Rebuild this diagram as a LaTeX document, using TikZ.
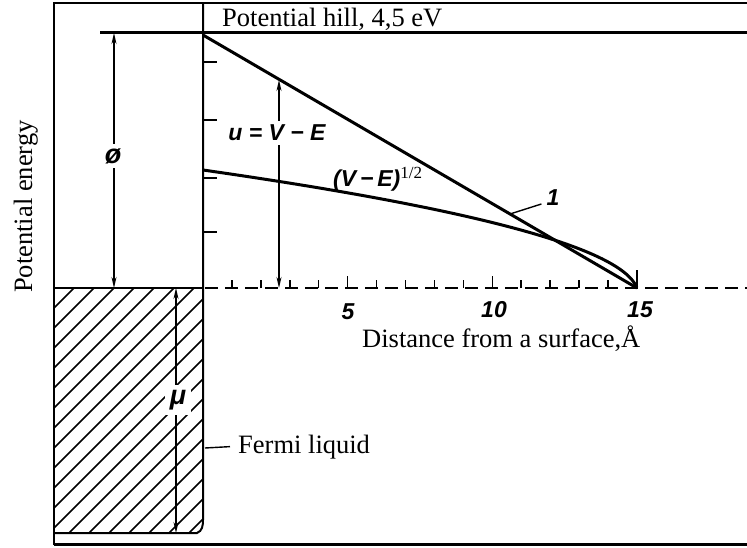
\documentclass[tikz,border=0pt]{standalone}
\usepackage{fontspec}
\setmainfont{Liberation Serif}
\newfontfamily\lblfont{Liberation Sans}
\usetikzlibrary{arrows.meta}
\begin{document}
\begin{tikzpicture}[x=1pt,y=-1pt,
  frameline/.style={line width=2pt},
  heavy/.style={line width=3pt},
  dim/.style={line width=1.5pt,{Stealth[length=11pt,width=5pt]}-{Stealth[length=11pt,width=5pt]}},
  txt/.style={font=\fontsize{26.5}{30}\selectfont, inner sep=0pt},
  lbl/.style={font=\lblfont\bfseries\itshape\fontsize{23}{25}\selectfont, inner sep=2pt},
  biglbl/.style={font=\lblfont\bfseries\itshape\fontsize{27}{29}\selectfont},
  hatch/.style={line width=1.6pt},
  tickmark/.style={line width=1.5pt},
]
\useasboundingbox (0,0) rectangle (747,548);

% hatching of the Fermi liquid
\begin{scope}
  \clip (54,288) -- (203,288) -- (203,520) to[out=-90,in=20] (197,533) -- (54,533) -- cycle;
  \foreach \c in {342,362,...,760} {
    \draw[hatch] (\c-288+20,268) -- (\c-533-20,553);
  }
\end{scope}

% frame
\draw[frameline] (54,545) -- (54,3) -- (747,3);
\draw[heavy] (54,544) -- (747,544);
\draw[frameline] (203,3) -- (203,520) to[out=-90,in=20] (197,533) -- (54,533);
\draw[frameline] (54,288) -- (203,288);

% potential hill line
\draw[heavy] (100,33) -- (747,33);
\node[txt, anchor=base west] (hill) at (222,27) {Potential hill, 4,5 eV};

% ticks on the vertical axis
\foreach \yy in {62,120,178,232} \draw[tickmark] (203,\yy) -- (217,\yy);

% dashed base line with ticks
\draw[line width=1.8pt, dash pattern=on 13pt off 7pt] (205,288) -- (747,288);
\foreach \k in {1,2,3,4,6,7,8,9,11,12,13,14} \draw[tickmark] ({203+28.93*\k},288) -- ({203+28.93*\k},280);
\foreach \k in {5,10} \draw[tickmark] ({203+28.93*\k},288) -- ({203+28.93*\k},276);
\draw[tickmark] (637,288) -- (637,270);
\node[lbl] (n5) at (348,312) {5};
\node[lbl] (n10) at (494,310) {10};
\node[lbl] (n15) at (640,310) {15};
\node[txt, anchor=base west] (dist) at (362,347) {Distance from a surface,Å};

% potential curves
\coordinate (lintop) at (203,35);
\coordinate (zero) at (637,288);
\draw[heavy] (lintop) -- (zero);
\draw[heavy, line join=round] plot[domain=0:15, samples=200]
  ({203+28.93*\x}, {288-118*(sqrt(max(0,1-\x/15)+0.003)-0.05477)/0.94673});

% phi dimension
\coordinate (phitop) at (114,33);
\coordinate (phibot) at (114,288);
\draw[dim] (phitop) -- (phibot);
\node[biglbl, fill=white, inner sep=4pt] (phi) at (113,156) {ø};

% u = V - E dimension
\coordinate (utop) at (279,80);
\coordinate (ubot) at (279,288);
\draw[dim] (utop) -- (ubot);
\node[lbl, fill=white, inner sep=4pt] (ulabel) at (277,133) {u = V − E};

% (V-E)^{1/2} label
\node[lbl, anchor=west, inner sep=0pt] (sqrtlbl) at (333,179) {(V\,−\,E)\raisebox{8pt}{\normalfont\fontsize{17}{18}\selectfont 1/2}};

% label 1
\coordinate (onetip) at (510,214);
\node[lbl] (one) at (553,198) {1};
\draw[line width=1.4pt] (onetip) -- ([shift={(-3,6)}]one.west);

% mu dimension
\coordinate (mutop) at (176,288);
\coordinate (mubot) at (176,533);
\draw[dim] (mutop) -- (mubot);
\node[biglbl, fill=white, inner sep=5pt] (mu) at (178,400) {μ};

% Fermi liquid
\node[txt, anchor=base west] (fermi) at (238,453) {Fermi liquid};
\coordinate (ftip) at (205,448);
\draw[line width=1.4pt] (ftip) -- ([xshift=-8pt]fermi.west);

% axis title
\node[txt, rotate=90, anchor=base west] (pe) at (32,293) {Potential energy};
\end{tikzpicture}
\end{document}
